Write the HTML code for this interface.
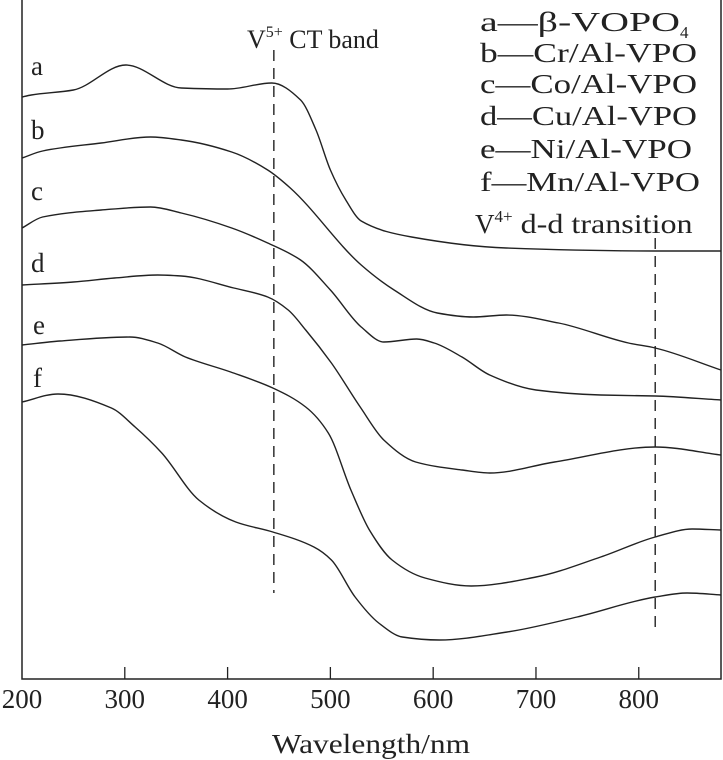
<!DOCTYPE html>
<html><head><meta charset="utf-8">
<style>
html,body{margin:0;padding:0;background:#fff;}
svg{display:block;font-family:"Liberation Serif",serif;}
</style></head>
<body>
<svg id="chart" width="723" height="760" viewBox="0 0 723 760" xmlns="http://www.w3.org/2000/svg">
<g id="axes"></g>
<g id="series"></g>
<g id="labels" fill="#222">
  <text x="272" y="753" font-size="27" textLength="198" lengthAdjust="spacingAndGlyphs">Wavelength/nm</text>
  <text x="247" y="48" font-size="26">V<tspan font-size="16" dy="-11">5+</tspan><tspan dy="11" textLength="96" lengthAdjust="spacingAndGlyphs"> CT band</tspan></text>
  <text x="475" y="233" font-size="27">V<tspan font-size="17" dy="-11">4+</tspan><tspan dy="11" textLength="180" lengthAdjust="spacingAndGlyphs"> d-d transition</tspan></text>
  <text x="480" y="31" font-size="27"><tspan textLength="200" lengthAdjust="spacingAndGlyphs">a—β-VOPO</tspan><tspan font-size="17" dy="7">4</tspan></text>
  <text x="480" y="62" font-size="27" textLength="217" lengthAdjust="spacingAndGlyphs">b—Cr/Al-VPO</text>
  <text x="480" y="93" font-size="27" textLength="217" lengthAdjust="spacingAndGlyphs">c—Co/Al-VPO</text>
  <text x="480" y="125" font-size="27" textLength="217" lengthAdjust="spacingAndGlyphs">d—Cu/Al-VPO</text>
  <text x="480" y="158" font-size="27" textLength="212" lengthAdjust="spacingAndGlyphs">e—Ni/Al-VPO</text>
  <text x="480" y="191" font-size="27" textLength="220" lengthAdjust="spacingAndGlyphs">f—Mn/Al-VPO</text>
  <text x="31" y="75" font-size="27">a</text>
  <text x="31" y="139" font-size="27">b</text>
  <text x="31" y="200" font-size="27">c</text>
  <text x="31" y="272" font-size="27">d</text>
  <text x="33" y="334" font-size="27">e</text>
  <text x="33" y="387" font-size="27">f</text>
</g>
</svg>
<script>
const xTicks = [200, 300, 400, 500, 600, 700, 800];
const markerWavelengths = [445, 816];
const seriesNames = ["a", "b", "c", "d", "e", "f"];
const seriesA = [[200,582],[209,584],[250,589],[301,614],[355,591],[400,590],[443,596],[471,579],[486,549],[500,509],[515,479],[530,458],[579,442],[671,431],[816,428],[880,428]];
const seriesB = [[200,521],[220,528],[277,536],[325,542],[355,539],[404,527],[439,509],[461,491],[530,414],[562,389],[604,366],[639,362],[671,364],[722,356],[790,336],[816,331],[880,309]];
const seriesC = [[200,451],[220,462],[277,469],[325,472],[355,466],[404,451],[439,436],[471,419],[500,389],[530,352],[552,337],[584,340],[601,336],[628,322],[655,304],[700,289],[763,284],[816,283],[880,279]];
const seriesD = [[200,394],[250,397],[290,401],[332,404],[355,403],[406,391],[439,382],[459,369],[476,349],[501,316],[529,272],[552,239],[583,217],[628,209],[655,206],[718,217],[816,232],[880,224]];
const seriesE = [[200,334],[237,338],[305,342],[332,336],[359,322],[403,307],[444,291],[476,272],[498,246],[520,189],[538,149],[560,119],[592,101],[637,93],[700,102],[763,122],[816,142],[852,150],[880,149]];
const seriesF = [[200,277],[235,285],[287,271],[310,252],[336,226],[372,179],[408,157],[444,147],[484,132],[501,119],[524,82],[547,56],[570,42],[606,39],[672,47],[740,62],[816,82],[847,86],[880,84]];

const NS = "http://www.w3.org/2000/svg";
const X0 = 22, X1 = 721, Y0 = 679;
const xMin = 200, xMax = 880;
function xScale(w){ return X0 + (w - xMin) * (X1 - X0) / (xMax - xMin); }
function yScale(v){ return Y0 - v; }
function mk(tag, attrs, parent){
  const el = document.createElementNS(NS, tag);
  for (const k in attrs) el.setAttribute(k, attrs[k]);
  parent.appendChild(el);
  return el;
}
const axes = document.getElementById('axes');
let el = mk('path', {d:`M${X0},0 L${X0},${Y0} L${X1},${Y0} L${X1},0`, fill:'none', stroke:'#222', 'stroke-width':1.5}, axes);


xTicks.forEach(t => {
  const x = xScale(t);
  if (t !== xMin) {
    const tk = mk('line', {x1:x, x2:x, y1:Y0, y2:Y0-12, stroke:'#222', 'stroke-width':1.3}, axes);
    
    
  }
  const lb = mk('text', {x:x, y:708, 'font-size':27, 'text-anchor':'middle', fill:'#222'}, axes);
  lb.textContent = t;
  
  
});
const markerRanges = [[50, 593], [238, 633]];
markerWavelengths.forEach((w, i) => {
  const x = xScale(w);
  const ln = mk('line', {x1:x, x2:x, y1:markerRanges[i][0], y2:markerRanges[i][1], stroke:'#222', 'stroke-width':1.4, 'stroke-dasharray':'11 7'}, axes);
  
  
});
function pathFor(data){
  const p = data.map(d => [xScale(d[0]), yScale(d[1])]);
  const n = p.length, dx = [], sl = [], m = [];
  for (let i = 0; i < n-1; i++){ dx[i] = p[i+1][0]-p[i][0]; sl[i] = (p[i+1][1]-p[i][1])/dx[i]; }
  m[0] = sl[0]; m[n-1] = sl[n-2];
  for (let i = 1; i < n-1; i++){
    if (sl[i-1]*sl[i] <= 0) m[i] = 0;
    else { const w1 = 2*dx[i]+dx[i-1], w2 = dx[i]+2*dx[i-1]; m[i] = (w1+w2)/(w1/sl[i-1]+w2/sl[i]); }
  }
  let s = `M${p[0][0].toFixed(1)},${p[0][1].toFixed(1)}`;
  for (let i = 0; i < n-1; i++){
    const h = dx[i]/3;
    s += ` C${(p[i][0]+h).toFixed(1)},${(p[i][1]+m[i]*h).toFixed(1)} ${(p[i+1][0]-h).toFixed(1)},${(p[i+1][1]-m[i+1]*h).toFixed(1)} ${p[i+1][0].toFixed(1)},${p[i+1][1].toFixed(1)}`;
  }
  return s;
}
const seriesG = document.getElementById('series');
[seriesA, seriesB, seriesC, seriesD, seriesE, seriesF].forEach((data, i) => {
  const pth = mk('path', {d:pathFor(data), fill:'none', stroke:'#222', 'stroke-width':1.4}, seriesG);
  
  
});
</script>
</body></html>
